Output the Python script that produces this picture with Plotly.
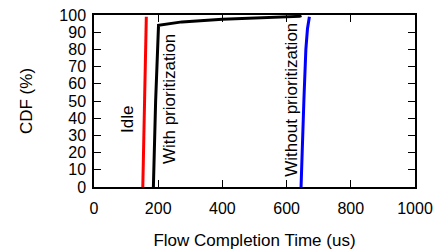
import plotly.graph_objects as go

idle_x = [152, 154, 156, 158, 160, 162, 163]
idle_y = [0, 20, 40, 60, 80, 97, 99]

with_x = [185, 192, 201, 274, 400, 600, 640, 646]
with_y = [0, 50, 94, 96, 97.6, 98.7, 99.2, 99.7]

without_x = [645, 648, 654, 660, 665, 671]
without_y = [0, 21, 51, 80, 92, 99]

x_ticks = [0, 200, 400, 600, 800, 1000]
y_ticks = [0, 10, 20, 30, 40, 50, 60, 70, 80, 90, 100]

labels = [("Idle", 106, 39), ("With prioritization", 233, 51), ("Without prioritization", 615, 51)]

FONT = "Liberation Sans, Arial, sans-serif"

fig = go.Figure()
fig.add_trace(go.Scatter(x=idle_x, y=idle_y, mode="lines", line=dict(color="#ff0000", width=3), showlegend=False))
fig.add_trace(go.Scatter(x=with_x, y=with_y, mode="lines", line=dict(color="#000000", width=3), showlegend=False))
fig.add_trace(go.Scatter(x=without_x, y=without_y, mode="lines", line=dict(color="#0000ff", width=3), showlegend=False))

for txt, xx, yy in labels:
    fig.add_annotation(x=xx, y=yy, text=txt, textangle=-90, showarrow=False,
                       font=dict(family=FONT, size=17, color="black"))

fig.update_layout(
    width=438, height=252,
    margin=dict(l=94, r=23, t=15, b=65),
    plot_bgcolor="white", paper_bgcolor="white",
    font=dict(family=FONT, color="black"),
)
fig.update_xaxes(range=[0, 1000], tickvals=x_ticks, ticks="inside", ticklen=7, tickcolor="black",
                 showline=True, linecolor="black", linewidth=1.5, mirror="ticks", showgrid=False,
                 zeroline=False, tickfont=dict(size=16), automargin=False, ticklabelstandoff=6,
                 title=dict(text="Flow Completion Time (us)", font=dict(size=17), standoff=18))
fig.update_yaxes(range=[0, 100], tickvals=y_ticks, ticks="inside", ticklen=7, tickcolor="black",
                 showline=True, linecolor="black", linewidth=1.5, mirror="ticks", showgrid=False,
                 zeroline=False, tickfont=dict(size=16), automargin=False, ticklabelstandoff=3,
                 title=dict(text="CDF (%)", font=dict(size=17), standoff=22))

fig.write_html("out.html", config={"displayModeBar": False},
               post_script="document.body.style.margin='0';document.body.style.padding='0';")
